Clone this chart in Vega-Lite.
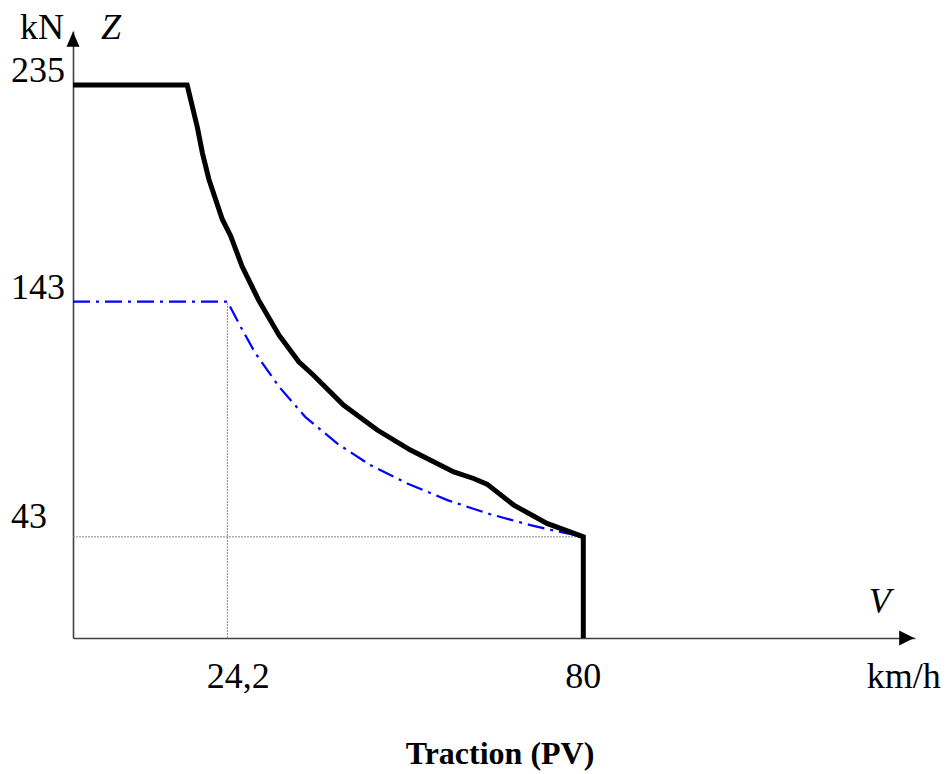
{
  "$schema": "https://vega.github.io/schema/vega-lite/v6.json",
  "autosize": {"type": "none"},
  "width": 842,
  "height": 607,
  "padding": {"left": 73, "top": 31, "right": 34, "bottom": 136},
  "background": "white",
  "config": {"view": {"stroke": null}, "font": "Liberation Serif"},
  "title": {"text": "Traction (PV)", "orient": "bottom", "anchor": "middle", "font": "Liberation Serif", "fontSize": 32, "fontWeight": "bold", "color": "black", "offset": 71, "dx": 6, "dy": -27},
  "datasets": {
    "curves": [
      {"series": "Z", "i": 0, "v": 0, "F": 235},
      {"series": "Z", "i": 1, "v": 17.9, "F": 235},
      {"series": "Z", "i": 2, "v": 19.5, "F": 217},
      {"series": "Z", "i": 3, "v": 20.3, "F": 206},
      {"series": "Z", "i": 4, "v": 21.3, "F": 195},
      {"series": "Z", "i": 5, "v": 23.4, "F": 178},
      {"series": "Z", "i": 6, "v": 24.7, "F": 171},
      {"series": "Z", "i": 7, "v": 26.5, "F": 158},
      {"series": "Z", "i": 8, "v": 29.1, "F": 143.6},
      {"series": "Z", "i": 9, "v": 32.3, "F": 128.7},
      {"series": "Z", "i": 10, "v": 35.4, "F": 117.4},
      {"series": "Z", "i": 11, "v": 37.7, "F": 111.7},
      {"series": "Z", "i": 12, "v": 42.4, "F": 99},
      {"series": "Z", "i": 13, "v": 47.7, "F": 88.4},
      {"series": "Z", "i": 14, "v": 52.9, "F": 79.9},
      {"series": "Z", "i": 15, "v": 59.7, "F": 70.6},
      {"series": "Z", "i": 16, "v": 62.8, "F": 67.8},
      {"series": "Z", "i": 17, "v": 64.9, "F": 65.4},
      {"series": "Z", "i": 18, "v": 69.1, "F": 56.5},
      {"series": "Z", "i": 19, "v": 74.3, "F": 48.7},
      {"series": "Z", "i": 20, "v": 80, "F": 43},
      {"series": "Z", "i": 21, "v": 80, "F": 0},
      {"series": "Zr", "i": 0, "v": 0, "F": 143},
      {"series": "Zr", "i": 1, "v": 24.2, "F": 143},
      {"series": "Zr", "i": 2, "v": 26.3, "F": 132.2},
      {"series": "Zr", "i": 3, "v": 28.6, "F": 121},
      {"series": "Zr", "i": 4, "v": 32.3, "F": 106.8},
      {"series": "Zr", "i": 5, "v": 36.4, "F": 94},
      {"series": "Zr", "i": 6, "v": 41.4, "F": 82.7},
      {"series": "Zr", "i": 7, "v": 46.6, "F": 73.5},
      {"series": "Zr", "i": 8, "v": 52.4, "F": 65.7},
      {"series": "Zr", "i": 9, "v": 58.7, "F": 58.6},
      {"series": "Zr", "i": 10, "v": 64.9, "F": 53},
      {"series": "Zr", "i": 11, "v": 71.7, "F": 48},
      {"series": "Zr", "i": 12, "v": 76.1, "F": 45.2},
      {"series": "Zr", "i": 13, "v": 80, "F": 43}
    ],
    "guides": [
      {"v": 24.2, "F": 0, "v2": 24.2, "F2": 143},
      {"v": 0, "F": 43, "v2": 80, "F2": 43}
    ],
    "arrows": [
      {"axis": "x", "v": 130.7, "F": 0},
      {"axis": "y", "v": 0, "F": 254.5}
    ],
    "ylabels": [
      {"label": "235", "v": 0, "F": 235},
      {"label": "143", "v": 0, "F": 143}
    ]
  },
  "encoding": {
    "x": {"field": "v", "type": "quantitative", "scale": {"domain": [0, 132], "nice": false, "zero": false}, "axis": {"domain": true, "domainColor": "#404040", "domainWidth": 1.6, "ticks": false, "labels": false, "grid": false, "title": null}},
    "y": {"field": "F", "type": "quantitative", "scale": {"domain": [0, 258], "nice": false, "zero": false}, "axis": {"domain": true, "domainColor": "#404040", "domainWidth": 1.6, "ticks": false, "labels": false, "grid": false, "title": null}}
  },
  "layer": [
    {
      "data": {"name": "guides"},
      "mark": {"type": "rule", "color": "#8a8a8a", "strokeWidth": 1, "strokeDash": [2, 1]},
      "encoding": {"x2": {"field": "v2"}, "y2": {"field": "F2"}}
    },
    {
      "data": {"name": "curves"},
      "transform": [{"filter": "datum.series === 'Zr'"}],
      "mark": {"type": "line", "color": "#0000ff", "strokeWidth": 2.2, "strokeDash": [17, 6, 3, 6]},
      "encoding": {"order": {"field": "i", "type": "quantitative"}}
    },
    {
      "data": {"name": "curves"},
      "transform": [{"filter": "datum.series === 'Z'"}],
      "mark": {"type": "line", "color": "black", "strokeWidth": 5, "strokeJoin": "miter"},
      "encoding": {"order": {"field": "i", "type": "quantitative"}}
    },
    {
      "data": {"name": "arrows"},
      "mark": {"type": "point", "filled": true, "color": "black", "size": 225, "opacity": 1, "strokeWidth": 0},
      "encoding": {"shape": {"field": "axis", "type": "nominal", "scale": {"domain": ["x", "y"], "range": ["M-1,-1L1,0L-1,1Z", "M-0.87,1L0,-1L0.87,1Z"]}, "legend": null}}
    },
    {
      "data": {"name": "ylabels"},
      "mark": {"type": "text", "align": "right", "baseline": "alphabetic", "dx": -8, "dy": -3, "fontSize": 36, "font": "Liberation Serif", "color": "black"},
      "encoding": {"text": {"field": "label"}}
    },
    {
      "data": {"values": [{"label": "43", "v": 0, "F": 43}]},
      "mark": {"type": "text", "align": "right", "baseline": "alphabetic", "dx": -26, "dy": -9, "fontSize": 36, "font": "Liberation Serif", "color": "black"},
      "encoding": {"text": {"field": "label"}}
    },
    {
      "data": {"values": [{"label": "24,2", "v": 24.2, "F": 0}]},
      "mark": {"type": "text", "align": "center", "baseline": "alphabetic", "dx": 11, "dy": 50, "fontSize": 36, "font": "Liberation Serif", "color": "black"},
      "encoding": {"text": {"field": "label"}}
    },
    {
      "data": {"values": [{"label": "80", "v": 80, "F": 0}]},
      "mark": {"type": "text", "align": "center", "baseline": "alphabetic", "dx": 0, "dy": 50, "fontSize": 36, "font": "Liberation Serif", "color": "black"},
      "encoding": {"text": {"field": "label"}}
    },
    {
      "data": {"values": [{"label": "kN", "v": 0, "F": 254.5}]},
      "mark": {"type": "text", "align": "right", "baseline": "alphabetic", "dx": -9, "dy": 0, "fontSize": 36, "font": "Liberation Serif", "color": "black"},
      "encoding": {"text": {"field": "label"}}
    },
    {
      "data": {"values": [{"label": "Z", "v": 0, "F": 254.5}]},
      "mark": {"type": "text", "align": "left", "baseline": "alphabetic", "dx": 28, "dy": 0, "fontSize": 36, "fontStyle": "italic", "font": "Liberation Serif", "color": "black"},
      "encoding": {"text": {"field": "label"}}
    },
    {
      "data": {"values": [{"label": "V", "v": 130.7, "F": 0}]},
      "mark": {"type": "text", "align": "left", "baseline": "alphabetic", "dx": -38, "dy": -25, "fontSize": 36, "fontStyle": "italic", "font": "Liberation Serif", "color": "black"},
      "encoding": {"text": {"field": "label"}}
    },
    {
      "data": {"values": [{"label": "km/h", "v": 130.7, "F": 0}]},
      "mark": {"type": "text", "align": "center", "baseline": "alphabetic", "dx": -3, "dy": 50, "fontSize": 36, "font": "Liberation Serif", "color": "black"},
      "encoding": {"text": {"field": "label"}}
    }
  ]
}
